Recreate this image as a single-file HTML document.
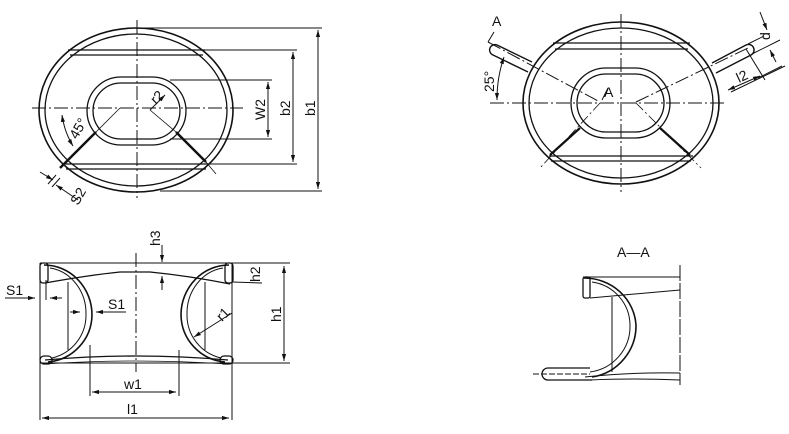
<!DOCTYPE html>
<html><head><meta charset="utf-8"><style>
html,body{margin:0;padding:0;background:#fff;}
svg{display:block;}
text{font-family:"Liberation Sans",sans-serif;font-size:14px;fill:#111;}
</style></head><body>
<svg width="789" height="434" viewBox="0 0 789 434" xmlns="http://www.w3.org/2000/svg">
<defs>
<marker id="ar" viewBox="0 0 10 10" refX="10" refY="5" markerWidth="7" markerHeight="7" orient="auto-start-reverse"><path d="M0,2 L10,5 L0,8 z" fill="#111"/></marker>
</defs>
<g stroke="#111" fill="none" stroke-width="1.3">
<!-- TOP LEFT VIEW -->
<ellipse cx="136" cy="110" rx="97" ry="82" stroke-width="1.6"/>
<ellipse cx="136" cy="110" rx="91" ry="76"/>
<line x1="68" y1="50" x2="205" y2="50"/><line x1="70" y1="55" x2="203" y2="55"/>
<line x1="64" y1="164" x2="208" y2="164"/><line x1="66" y1="169" x2="206" y2="169"/>
<rect x="87" y="77" width="99" height="68" rx="34" ry="34"/>
<rect x="93" y="83" width="87" height="56" rx="28" ry="28"/>
<line x1="137" y1="20" x2="137" y2="198" stroke-dasharray="14,3,2,3" stroke-width="1"/>
<line x1="32" y1="108" x2="243" y2="108" stroke-dasharray="14,3,2,3" stroke-width="1"/>
<line x1="96" y1="132" x2="60" y2="168" stroke-width="2.5"/><line x1="120" y1="108" x2="96" y2="132" stroke-width="0.8"/>
<line x1="176" y1="132" x2="206" y2="162" stroke-width="2.5"/><line x1="150" y1="110" x2="176" y2="132" stroke-width="0.8"/>
<line x1="206" y1="162" x2="216" y2="174" stroke-width="0.8"/>
<line x1="150" y1="110" x2="165" y2="95" marker-end="url(#ar)" stroke-width="1"/>
<path d="M62,115 A80,80 0 0 0 73,146" marker-start="url(#ar)" marker-end="url(#ar)" stroke-width="1"/>
<line x1="40" y1="172" x2="53" y2="180" marker-end="url(#ar)" stroke-width="1"/>
<line x1="78" y1="200" x2="56" y2="185" marker-end="url(#ar)" stroke-width="1"/>
<line x1="56" y1="175" x2="48" y2="184" stroke-width="1"/><line x1="60" y1="178" x2="52" y2="187" stroke-width="1"/>
<g stroke-width="1">
<line x1="137" y1="28" x2="322" y2="28"/><line x1="180" y1="50" x2="297" y2="50"/>
<line x1="170" y1="80" x2="272" y2="80"/><line x1="170" y1="139" x2="272" y2="139"/>
<line x1="200" y1="164" x2="297" y2="164"/><line x1="160" y1="191" x2="322" y2="191"/>
<line x1="268" y1="82" x2="268" y2="137" marker-start="url(#ar)" marker-end="url(#ar)"/>
<line x1="293" y1="52" x2="293" y2="162" marker-start="url(#ar)" marker-end="url(#ar)"/>
<line x1="318" y1="30" x2="318" y2="189" marker-start="url(#ar)" marker-end="url(#ar)"/>
</g>
<!-- BOTTOM LEFT VIEW -->
<g stroke-width="1">
<line x1="40" y1="263" x2="290" y2="263"/><line x1="40" y1="363" x2="290" y2="363"/>
<line x1="40" y1="263" x2="40" y2="420"/><line x1="232" y1="263" x2="232" y2="420"/>
<line x1="284" y1="266" x2="284" y2="361" marker-start="url(#ar)" marker-end="url(#ar)"/>
<line x1="90" y1="345" x2="90" y2="396"/><line x1="179" y1="350" x2="179" y2="396"/>
<line x1="92" y1="392" x2="176" y2="392" marker-start="url(#ar)" marker-end="url(#ar)"/>
<line x1="42" y1="418" x2="229" y2="418" marker-start="url(#ar)" marker-end="url(#ar)"/>
<line x1="136" y1="253" x2="136" y2="372" stroke-dasharray="14,3,2,3"/>
<line x1="68" y1="282" x2="68" y2="350"/><line x1="205" y1="282" x2="205" y2="350"/>
<line x1="46" y1="280" x2="46" y2="300"/>
<line x1="5" y1="298" x2="35" y2="298" marker-end="url(#ar)"/>
<line x1="62" y1="298" x2="50" y2="298" marker-end="url(#ar)"/>
<line x1="70" y1="312" x2="80" y2="312" marker-end="url(#ar)"/>
<line x1="126" y1="312" x2="96" y2="312" marker-end="url(#ar)"/>
<line x1="162" y1="245" x2="162" y2="262" marker-end="url(#ar)"/>
<line x1="162" y1="290" x2="162" y2="276" marker-end="url(#ar)"/>
<line x1="232" y1="282" x2="262" y2="283"/>
<line x1="232" y1="313" x2="194" y2="337" marker-end="url(#ar)"/>
</g>
<path d="M45,283 Q90,275 120,272 L150,272 Q190,276 230,284"/>
<path d="M45,360 Q136,352 228,360" /><path d="M45,364 Q136,358 228,364" stroke-width="0.8"/>
<path d="M44,265 A48,50 0 0 1 92,315 A48,48 0 0 1 48,362" stroke-width="1.6"/>
<path d="M50,268 A42,46 0 0 1 86,315 A44,44 0 0 1 52,358" stroke-width="1"/>
<path d="M229,265 A48,50 0 0 0 181,315 A48,48 0 0 0 225,362" stroke-width="1.6"/>
<path d="M223,268 A42,46 0 0 0 187,315 A44,44 0 0 0 221,358" stroke-width="1"/>
<rect x="40" y="263" width="8" height="20" rx="3"/><rect x="225" y="263" width="8" height="20" rx="3"/>
<rect x="40" y="356" width="12" height="8" rx="4"/><rect x="220" y="356" width="13" height="8" rx="4"/>
<!-- TOP RIGHT VIEW -->
<ellipse cx="621" cy="103" rx="98" ry="81" stroke-width="1.6"/>
<ellipse cx="621" cy="103" rx="92" ry="75"/>
<line x1="553" y1="43" x2="690" y2="43"/><line x1="555" y1="49" x2="688" y2="49"/>
<line x1="549" y1="156" x2="693" y2="156"/><line x1="551" y1="161" x2="691" y2="161"/>
<rect x="571" y="68" width="99" height="70" rx="35" ry="35"/>
<rect x="577" y="74" width="87" height="58" rx="29" ry="29"/>
<line x1="621" y1="14" x2="621" y2="192" stroke-dasharray="14,3,2,3" stroke-width="1"/>
<line x1="490" y1="103" x2="727" y2="103" stroke-dasharray="14,3,2,3" stroke-width="1"/>
<line x1="580" y1="128" x2="550" y2="155" stroke-width="2.2"/><line x1="600" y1="103" x2="540" y2="168" stroke-width="0.8" stroke-dasharray="10,3,2,3"/>
<line x1="660" y1="128" x2="690" y2="155" stroke-width="2.2"/><line x1="636" y1="103" x2="701" y2="168" stroke-width="0.8" stroke-dasharray="10,3,2,3"/>
<path d="M532,62 L497,45 A4,4 0 0 0 493,55 L528,72" stroke-width="1.4"/>
<path d="M712,63 L746,45 A4,4 0 0 1 751,55 L716,73" stroke-width="1.4"/>
<g stroke-width="1">
<line x1="488" y1="42" x2="600" y2="102" stroke-dasharray="14,3,2,3"/>
<line x1="636" y1="102" x2="748" y2="48" stroke-dasharray="14,3,2,3"/>
<line x1="488" y1="42" x2="494" y2="32"/>
<path d="M504,57 A130,130 0 0 0 497,100" marker-start="url(#ar)" marker-end="url(#ar)"/>
<line x1="602" y1="100" x2="608" y2="88"/>
<line x1="748" y1="44" x2="764" y2="36"/><line x1="752" y1="54" x2="780" y2="40"/>
<line x1="758" y1="78" x2="782" y2="66"/><line x1="731" y1="92" x2="785" y2="66"/>
<line x1="746" y1="49" x2="765" y2="80"/>
<line x1="728" y1="90" x2="760" y2="76" marker-start="url(#ar)" marker-end="url(#ar)"/>
<line x1="760" y1="12" x2="767" y2="30" marker-end="url(#ar)"/>
<line x1="776" y1="62" x2="770" y2="50" marker-end="url(#ar)"/>
</g>
<!-- SECTION A-A -->
<g stroke-width="1">
<line x1="583" y1="277" x2="680" y2="277"/>
<line x1="680" y1="265" x2="680" y2="385" stroke-dasharray="16,2"/>
<line x1="612" y1="297" x2="612" y2="372"/>
<path d="M590,298 L680,290"/>
<path d="M585,377 Q630,372 680,373"/><path d="M590,380 Q630,378 680,380"/>
<line x1="533" y1="374" x2="590" y2="374" stroke-dasharray="6,2"/>
</g>
<rect x="583" y="277" width="7" height="21" rx="2"/>
<path d="M584,278 A52,50 0 0 1 636,325 A52,52 0 0 1 592,377" stroke-width="1.6"/>
<path d="M592,282 A44,44 0 0 1 630,325 A46,46 0 0 1 590,372" stroke-width="1"/>
<path d="M590,368 L548,368 A6,6 0 0 0 548,380 L592,380"/>
</g>
<g>
<text x="0" y="0" transform="translate(156,105) rotate(-45)">r2</text>
<text x="0" y="0" transform="translate(77,140) rotate(-60)">45°</text>
<text x="0" y="0" transform="translate(78,206) rotate(-60)">S2</text>
<text x="0" y="0" transform="translate(265,120) rotate(-90)">W2</text>
<text x="0" y="0" transform="translate(290,116) rotate(-90)">b2</text>
<text x="0" y="0" transform="translate(315,116) rotate(-90)">b1</text>
<text x="0" y="0" transform="translate(160,246) rotate(-90)">h3</text>
<text x="0" y="0" transform="translate(260,282) rotate(-90)">h2</text>
<text x="0" y="0" transform="translate(281,322) rotate(-90)">h1</text>
<text x="0" y="0" transform="translate(222,322) rotate(-45)">r1</text>
<text x="6" y="295">S1</text>
<text x="108" y="309">S1</text>
<text x="124" y="389">w1</text>
<text x="127" y="414">l1</text>
<text x="492" y="26">A</text>
<text x="0" y="0" transform="translate(494,92) rotate(-90)">25°</text>
<text x="604" y="97">A</text>
<text x="0" y="0" transform="translate(770,40) rotate(-90)">d</text>
<text x="0" y="0" transform="translate(739,83) rotate(-25)">l2</text>
<text x="617" y="257">A—A</text>
</g>
</svg>
</body></html>
